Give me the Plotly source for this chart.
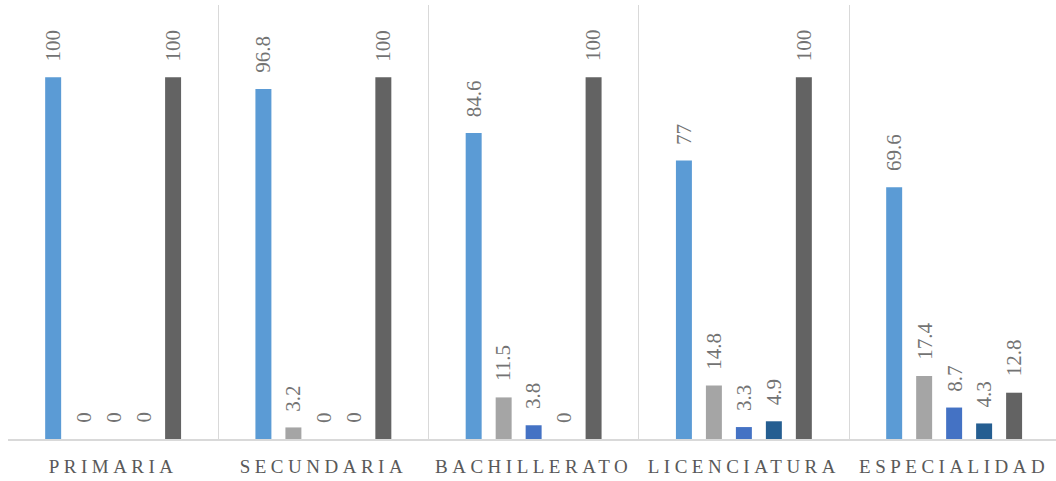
import plotly.graph_objects as go

# Education levels and the five series shown per level
categories = ["PRIMARIA", "SECUNDARIA", "BACHILLERATO", "LICENCIATURA", "ESPECIALIDAD"]
series_names = ["Serie 1", "Serie 2", "Serie 3", "Serie 4", "Serie 5"]
serie_1 = [100, 96.8, 84.6, 77, 69.6]
serie_2 = [0, 3.2, 11.5, 14.8, 17.4]
serie_3 = [0, 0, 3.8, 3.3, 8.7]
serie_4 = [0, 0, 0, 4.9, 4.3]
serie_5 = [100, 100, 100, 100, 12.8]
series_values = [serie_1, serie_2, serie_3, serie_4, serie_5]
colors = ["#5B9BD5", "#A5A5A5", "#4472C4", "#255E91", "#636363"]

BARGAP = 0.287
BARGROUPGAP = 0.467
SERIF = "Liberation Serif"
LABEL_FONT = dict(family=SERIF, size=21, color="#737373")

fig = go.Figure()
for name, vals, col in zip(series_names, series_values, colors):
    fig.add_trace(go.Bar(
        x=categories, y=vals, name=name,
        marker=dict(color=col, line=dict(width=0)),
        showlegend=False, hoverinfo="skip",
    ))

# Value labels above each bar, rotated to read bottom-to-top
n = len(series_values)
pitch = (1 - BARGAP) / n
annotations = []
for j, vals in enumerate(series_values):
    offset = (j - (n - 1) / 2) * pitch
    for i, v in enumerate(vals):
        annotations.append(dict(
            x=i + offset, y=v, xref="x", yref="y",
            text=f"{v:g}", textangle=-90,
            xanchor="center", yanchor="bottom", yshift=14,
            showarrow=False, font=LABEL_FONT,
        ))

fig.update_layout(
    barmode="group", bargap=BARGAP, bargroupgap=BARGROUPGAP,
    width=1056, height=481,
    margin=dict(l=8, r=0, t=5, b=42),
    paper_bgcolor="white", plot_bgcolor="white",
    annotations=annotations,
    xaxis=dict(
        type="category",
        range=[-0.5, 4.4845],
        tickson="boundaries", ticks="",
        showgrid=True, gridcolor="#D9D9D9", gridwidth=1.3,
        showline=True, linecolor="#D9D9D9", linewidth=1.5,
        ticklabelstandoff=9,
        tickfont=dict(family=SERIF, size=19, color="#595959"),
    ),
    yaxis=dict(
        range=[0, 120], showgrid=False, showticklabels=False,
        zeroline=False, showline=False,
    ),
)

# Widen the spacing between letters of the category labels
letter_spacing_js = """
var gd = document.getElementById('{plot_id}');
function spaceTicks() {
  gd.querySelectorAll('.xtick text').forEach(function (t) {
    t.style.letterSpacing = '4.5px';
  });
}
spaceTicks();
gd.on('plotly_afterplot', spaceTicks);
"""

fig.write_html("out.html", post_script=letter_spacing_js)
